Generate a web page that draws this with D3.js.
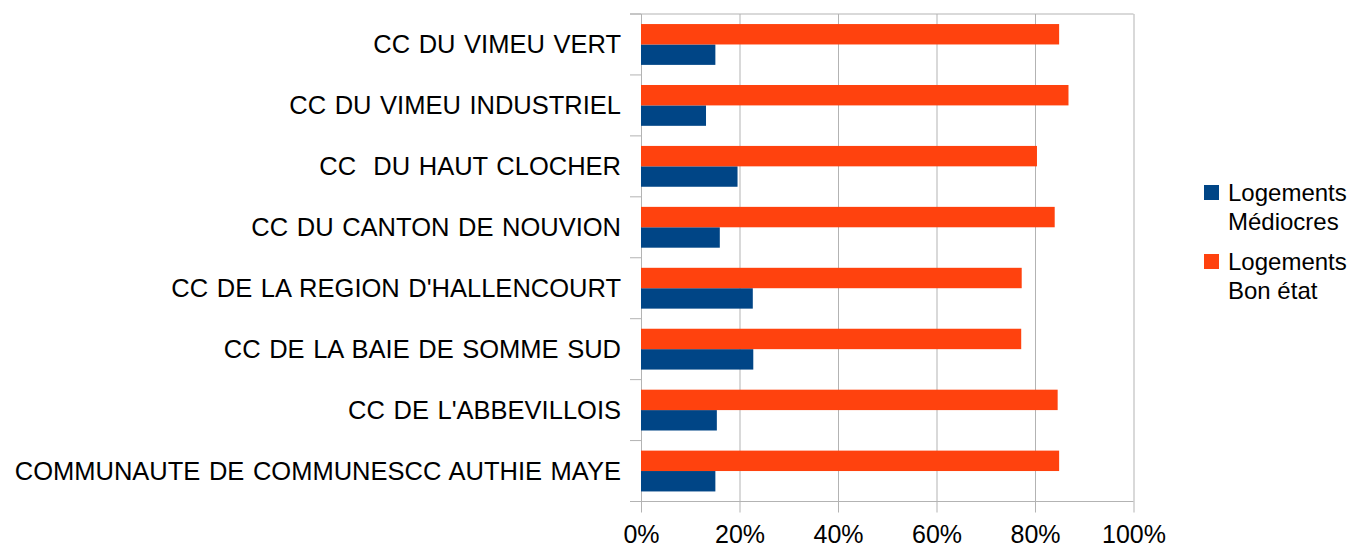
<!DOCTYPE html>
<html>
<head>
<meta charset="utf-8">
<script src="https://cdn.jsdelivr.net/npm/d3@7"></script>
<style>
  html, body { margin: 0; padding: 0; background: #ffffff; }
  svg { display: block; font-family: "Liberation Sans", Arial, sans-serif; }
  text { white-space: pre; }
</style>
</head>
<body>
<svg id="chart" width="1357" height="547"></svg>
<script>
// Housing condition by intercommunality (share of dwellings)
const categories = [
  "CC DU VIMEU VERT",
  "CC DU VIMEU INDUSTRIEL",
  "CC  DU HAUT CLOCHER",
  "CC DU CANTON DE NOUVION",
  "CC DE LA REGION D'HALLENCOURT",
  "CC DE LA BAIE DE SOMME SUD",
  "CC DE L'ABBEVILLOIS",
  "COMMUNAUTE DE COMMUNESCC AUTHIE MAYE"
];
const seriesNames = ["Logements Médiocres", "Logements Bon état"];
const mediocres = [15.1, 13.2, 19.6, 16.0, 22.7, 22.8, 15.4, 15.1];
const bonEtat   = [84.9, 86.8, 80.4, 84.0, 77.3, 77.2, 84.6, 84.9];
const tickValues = [0, 20, 40, 60, 80, 100];
const tickLabels = ["0%", "20%", "40%", "60%", "80%", "100%"];
const colors = ["#004586", "#ff420e"];

const svg = d3.select("#chart");
const plot = { left: 641, right: 1133.5, top: 14, bottom: 501.5 };
const grid = "#b3b3b3";

const x = d3.scaleLinear().domain([0, 100]).range([plot.left, plot.right]);
const y = d3.scaleBand().domain(categories).range([plot.top, plot.bottom])
  .paddingInner(0.33).paddingOuter(0.165);
// within a category: "Bon état" bar above, "Médiocres" bar below
const ySub = d3.scaleBand().domain([1, 0]).range([0, y.bandwidth()]);

// vertical gridlines + ticks below the axis
const xAxis = d3.axisBottom(x).tickValues(tickValues)
  .tickSize(plot.bottom - plot.top + 11)
  .tickFormat((d, i) => tickLabels[i]);
const gx = svg.append("g").attr("transform", `translate(0,${plot.top})`).call(xAxis);
gx.select(".domain").remove();
gx.selectAll(".tick line").attr("stroke", grid).attr("stroke-width", 1);
gx.selectAll(".tick text")
  .attr("fill", "#000").attr("font-size", 25)
  .attr("font-family", "Liberation Sans, Arial, sans-serif")
  .attr("y", plot.bottom - plot.top + 41.5).attr("dy", null);

// top frame line and bottom axis line
svg.append("line").attr("x1", 630).attr("x2", plot.right)
  .attr("y1", plot.top).attr("y2", plot.top).attr("stroke", grid);
svg.append("line").attr("x1", 630).attr("x2", plot.right)
  .attr("y1", plot.bottom).attr("y2", plot.bottom).attr("stroke", grid);

// category boundary ticks on the left axis
const step = y.step();
const boundaries = d3.range(categories.length + 1).map(i => plot.top + i * step);
svg.append("g").selectAll("line").data(boundaries).join("line")
  .attr("x1", 630).attr("x2", plot.left)
  .attr("y1", d => d).attr("y2", d => d)
  .attr("stroke", grid);

// bars
const seriesData = [mediocres, bonEtat];
seriesData.forEach((vals, s) => {
  svg.append("g").selectAll("rect").data(categories).join("rect")
    .attr("x", x(0))
    .attr("y", c => y(c) + ySub(s))
    .attr("width", (c, i) => x(vals[i]) - x(0))
    .attr("height", ySub.bandwidth())
    .attr("fill", colors[s]);
});

// category labels
svg.append("g").selectAll("text").data(categories).join("text")
  .attr("x", 621)
  .attr("y", c => y(c) - (step - y.bandwidth()) / 2 + step / 2 + 9)
  .attr("text-anchor", "end")
  .attr("font-size", 25.5)
  .attr("word-spacing", 1.5)
  .attr("fill", "#000")
  .text(c => c);

// legend
const legend = svg.append("g");
const legendItems = [
  { lines: ["Logements", "Médiocres"], color: colors[0], baseline: 201 },
  { lines: ["Logements", "Bon état"], color: colors[1], baseline: 270 }
];
legendItems.forEach(item => {
  legend.append("rect").attr("x", 1204).attr("y", item.baseline - 16)
    .attr("width", 15).attr("height", 15).attr("fill", item.color);
  item.lines.forEach((ln, k) => {
    legend.append("text").attr("x", 1228).attr("y", item.baseline + k * 29)
      .attr("font-size", 24).attr("fill", "#000").text(ln);
  });
});
</script>
</body>
</html>
